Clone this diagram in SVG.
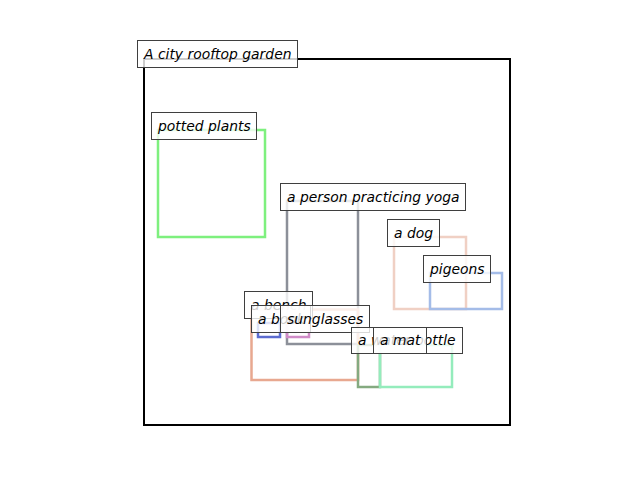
<svg xmlns="http://www.w3.org/2000/svg" width="640" height="480" viewBox="0 0 640 480">
<style>
.r{fill:none;stroke-width:2.5}
.lb{fill:#ffffff;fill-opacity:0.8;stroke:#3f3f3f;stroke-width:1}
.t{font-family:"DejaVu Sans",sans-serif;font-style:italic;font-size:13.9px;fill:#000}
</style>
<rect width="640" height="480" fill="#fff"/>
<g id="connectors"></g>
<g id="boxes">
<rect id="scene-box" x="144" y="59" width="366" height="366" fill="none" stroke="#000" stroke-width="2"/>
<rect id="potted-box" class="r" x="158" y="130" width="107" height="107" stroke="#7ef07e"/>
<rect id="person-box" class="r" x="287" y="201" width="71" height="143" stroke="#8c9099"/>
<rect id="dog-box" class="r" x="394" y="237" width="72" height="72" stroke="#f0d0c4"/>
<rect id="pigeons-box" class="r" x="430" y="273" width="72" height="36" stroke="#a4bce8"/>
<rect id="bench-box" class="r" x="251.5" y="309.5" width="106.5" height="70.5" stroke="#e8a890"/>
<rect id="book-box" class="r" x="258" y="323" width="22" height="14" stroke="#5c6cd0"/>
<rect id="sunglasses-box" class="r" x="287" y="323" width="22" height="14" stroke="#d08cc8"/>
<rect id="bottle-box" class="r" x="358" y="345" width="22" height="42" stroke="#84aa80"/>
<rect id="mat-box" class="r" x="380" y="345" width="72" height="42" stroke="#94ecbc"/>
</g>
<g id="scene"><rect class="lb" x="137.5" y="40.5" width="160" height="27"/><text class="t" x="144" y="58.5">A city rooftop garden</text></g>
<g id="potted"><rect class="lb" x="151.5" y="112.5" width="105" height="27"/><text class="t" x="158" y="130.5">potted plants</text></g>
<g id="person"><rect class="lb" x="280.5" y="183.5" width="185" height="27"/><text class="t" x="287" y="201.5">a person practicing yoga</text></g>
<g id="dog"><rect class="lb" x="387.5" y="219.5" width="52" height="27"/><text class="t" x="394" y="237.5">a dog</text></g>
<g id="pigeons"><rect class="lb" x="423.5" y="255.5" width="67" height="27"/><text class="t" x="430" y="273.5">pigeons</text></g>
<g id="bench"><rect class="lb" x="244.5" y="291.5" width="68" height="27"/><text class="t" x="251" y="309.5">a bench</text></g>
<g id="book"><rect class="lb" x="251.5" y="305.5" width="59" height="27"/><text class="t" x="258" y="323.5">a book</text></g>
<g id="sunglasses"><rect class="lb" x="280.5" y="305.5" width="89" height="27"/><text class="t" x="287" y="323.5">sunglasses</text></g>
<g id="bottle"><rect class="lb" x="351.5" y="327.5" width="111" height="26"/><text class="t" x="358" y="345">a water bottle</text></g>
<g id="mat"><rect class="lb" x="373.5" y="327.5" width="53" height="26"/><text class="t" x="380" y="345">a mat</text></g>
</svg>
